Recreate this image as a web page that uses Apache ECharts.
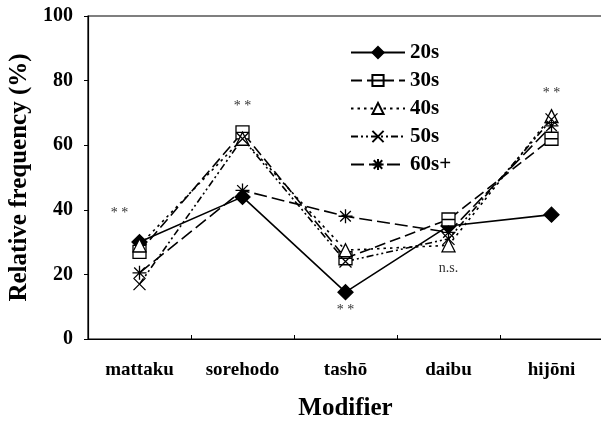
<!DOCTYPE html>
<html>
<head>
<meta charset="utf-8">
<script src="https://cdn.jsdelivr.net/npm/echarts@6/dist/echarts.min.js"></script>
<style>
  html, body { margin: 0; padding: 0; background: #fff; }
  #main { width: 601px; height: 421px; }
</style>
</head>
<body>
<div id="main"></div>
<script>
// categories and values
var modifiers = ['mattaku', 'sorehodo', 'tash\u014d', 'daibu', 'hij\u014dni'];
var yTicks = [0, 20, 40, 60, 80, 100];
var s20 = [30, 44, 14.5, 35, 38.5];
var s30 = [27, 64, 25, 37, 62];
var s40 = [29, 62, 27.5, 29, 69];
var s50 = [17, 62, 24, 31, 68];
var s60 = [20.5, 46, 38, 33, 66];
// significance marks: [category, y position, text]
var marks = [
  ['mattaku', 39, '* *'],
  ['sorehodo', 72, '* *'],
  ['tash\u014d', 9, '* *'],
  ['daibu', 22, 'n.s.'],
  ['hij\u014dni', 76, '* *']
];

var serif = '"Liberation Serif", "DejaVu Serif", serif';
var chart = echarts.init(document.getElementById('main'));

var squareSym = 'path://M0,0H10V10H0Z M0,5H10';
var crossSym = 'path://M0,0L10,10M10,0L0,10';
var starSym = 'path://M5,0V10M0,5H10M1.2,1.2L8.8,8.8M8.8,1.2L1.2,8.8';

function line(name, data, symbol, size, dash, fill) {
  return {
    name: name,
    type: 'line',
    data: data,
    symbol: symbol,
    symbolSize: size,
    lineStyle: { color: '#000', width: 1.6, type: dash },
    itemStyle: { color: fill, borderColor: '#000', borderWidth: 1.3 },
    z: 3
  };
}

var series = [
  line('20s', s20, 'diamond', 15, 'solid', '#000'),
  line('30s', s30, squareSym, 13, [11, 5], '#fff'),
  line('40s', s40, 'triangle', 13, [2.5, 4], '#fff'),
  line('50s', s50, crossSym, 12, [7, 3, 2, 3, 2, 3], 'none'),
  line('60s+', s60, starSym, 14, [13, 5], 'none')
];

series[0].markPoint = {
  symbol: 'circle',
  symbolSize: 0,
  label: {
    show: true,
    color: '#333',
    fontFamily: serif,
    fontSize: 14,
    formatter: function (p) { return p.name; }
  },
  data: marks.map(function (m) {
    var d = { name: m[2], coord: [m[0], m[1]] };
    if (m[0] === 'mattaku') d.label = { offset: [-20, 0] };
    return d;
  })
};

chart.setOption({
  animation: false,
  backgroundColor: '#fff',
  grid: {
    left: 88, right: -2, top: 16, bottom: 82,
    outerBoundsMode: 'none',
    show: true, borderColor: '#000', borderWidth: 1.2
  },
  legend: {
    orient: 'vertical',
    left: 350, top: 42,
    padding: 0,
    itemWidth: 54, itemHeight: 14, itemGap: 7,
    textStyle: { fontFamily: serif, fontWeight: 'bold', fontSize: 21, color: '#000' },
    data: ['20s', '30s', '40s', '50s', '60s+']
  },
  xAxis: {
    type: 'category',
    data: modifiers,
    boundaryGap: true,
    name: 'Modifier',
    nameLocation: 'middle',
    nameGap: 57,
    nameTextStyle: { fontFamily: serif, fontWeight: 'bold', fontSize: 25, color: '#000' },
    axisLine: { lineStyle: { color: '#000', width: 1.2 } },
    axisTick: { show: true, inside: true, length: 4, lineStyle: { color: '#000' } },
    axisLabel: { margin: 22, fontFamily: serif, fontWeight: 'bold', fontSize: 19, color: '#000' }
  },
  yAxis: {
    type: 'value',
    min: yTicks[0], max: yTicks[yTicks.length - 1], interval: 20,
    name: 'Relative frequency (%)',
    nameLocation: 'middle',
    nameGap: 50,
    nameTextStyle: { fontFamily: serif, fontWeight: 'bold', fontSize: 25, color: '#000' },
    axisLine: { show: true, lineStyle: { color: '#000', width: 1.2 } },
    axisTick: { show: true, length: 4, lineStyle: { color: '#000' } },
    splitLine: { show: false },
    axisLabel: { margin: 15, fontFamily: serif, fontWeight: 'bold', fontSize: 20, color: '#000' }
  },
  series: series
});
</script>
</body>
</html>
